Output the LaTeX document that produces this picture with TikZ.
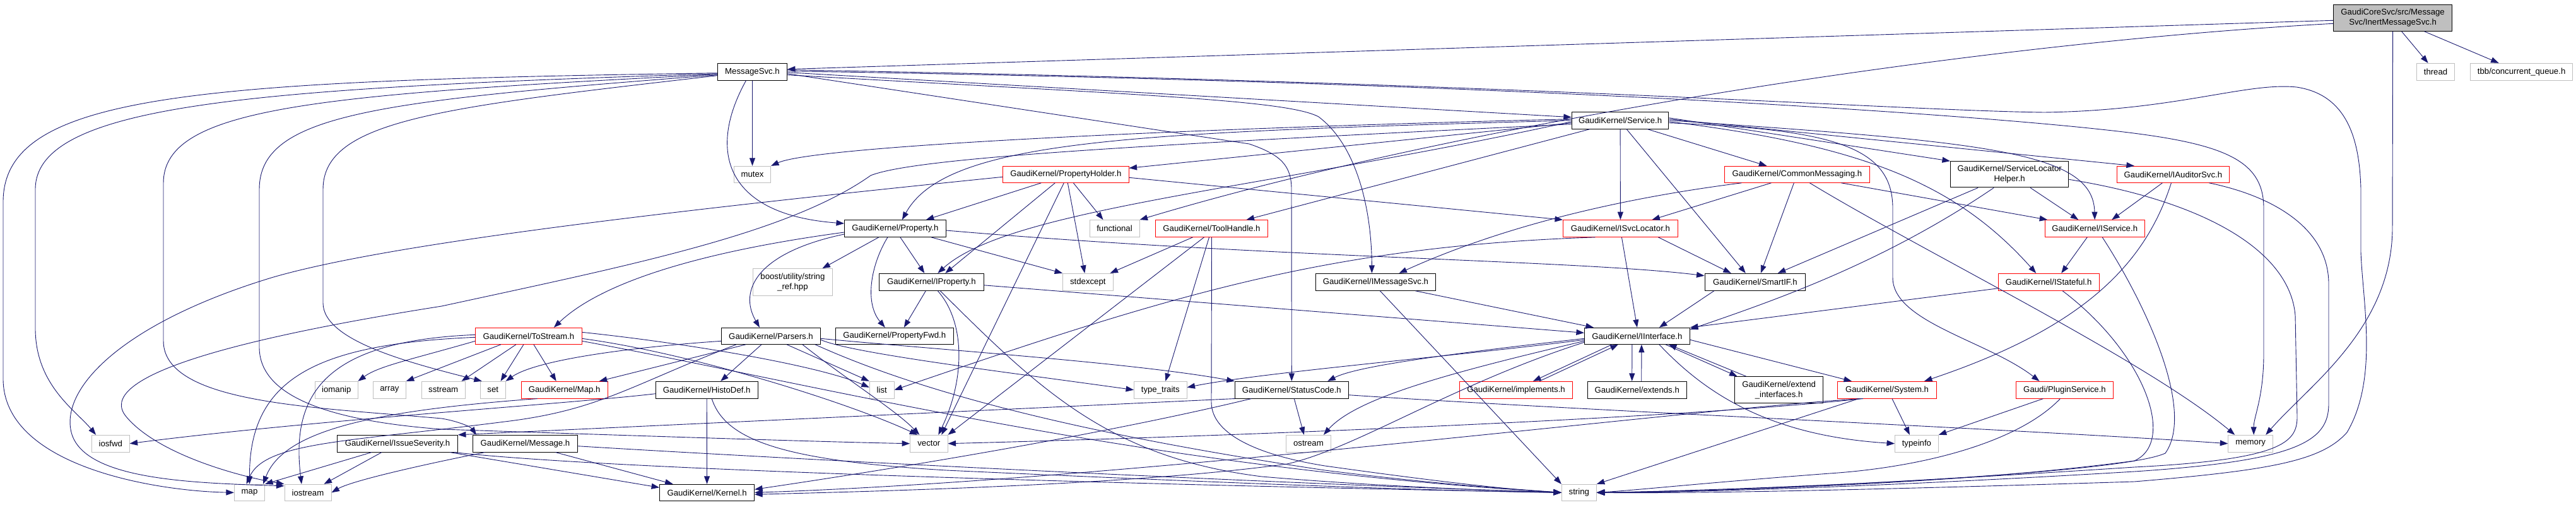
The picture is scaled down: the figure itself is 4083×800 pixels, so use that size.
\documentclass[tikz,border=0pt]{standalone}
\usepackage{fontspec}
\setmainfont{Liberation Sans}
\usetikzlibrary{arrows.meta}
\definecolor{edgeblue}{HTML}{191970}
\definecolor{boxgray}{HTML}{BFBFBF}
\definecolor{boxred}{HTML}{FF0000}
\newcommand\gkfont{\fontsize{13.2pt}{15.5pt}\selectfont}
\begin{document}
\begin{tikzpicture}[x=1pt,y=-1pt,
  box/.style={rectangle, inner sep=0pt, line width=1pt, font=\gkfont, align=center, text=black},
  bb/.style={box, draw=black},
  rb/.style={box, draw=boxred},
  gb/.style={box, draw=boxgray},
  sz/.style 2 args={minimum width=#1pt, minimum height=#2pt},
  e/.style={draw=edgeblue, line width=0.9pt, -{Triangle[length=12.5pt,width=9pt]}},
]
\useasboundingbox[fill=white] (0,0) rectangle (4083,800);

% ---------- nodes ----------
\node[bb, fill=boxgray, sz={188}{42}] (inert) at (3792.6,28.3) {GaudiCoreSvc/src/Message\\Svc/InertMessageSvc.h};
\node[gb, sz={60}{26.7}] (thread) at (3860.5,113.7) {thread};
\node[gb, sz={162}{26.7}] (tbb) at (3996.6,113.7) {tbb/concurrent\_queue.h};
\node[bb, sz={110}{26.7}] (msgsvc) at (1192.5,113.7) {MessageSvc.h};
\node[bb, sz={153.6}{26.7}] (service) at (2568.1,190.7) {GaudiKernel/Service.h};
\node[gb, sz={58}{26}] (mutex) at (1192.5,276.3) {mutex};
\node[rb, sz={199.5}{26}] (propholder) at (1689.3,276.3) {GaudiKernel/PropertyHolder.h};
\node[rb, sz={230}{26}] (commsg) at (2848.4,276.3) {GaudiKernel/CommonMessaging.h};
\node[bb, sz={187.5}{41.3}] (slh) at (3185.2,276.3) {GaudiKernel/ServiceLocator\\Helper.h};
\node[rb, sz={178}{26}] (auditor) at (3444.4,276.3) {GaudiKernel/IAuditorSvc.h};
\node[bb, sz={160.8}{26.7}] (property) at (1418.9,362) {GaudiKernel/Property.h};
\node[gb, sz={79}{26.7}] (functional) at (1766.5,362) {functional};
\node[rb, sz={178}{26.7}] (toolhandle) at (1920.5,362) {GaudiKernel/ToolHandle.h};
\node[rb, sz={181.7}{26.7}] (isvcloc) at (2568.4,362) {GaudiKernel/ISvcLocator.h};
\node[rb, sz={157.6}{26.7}] (iservice) at (3320.2,362) {GaudiKernel/IService.h};
\node[gb, sz={126}{42.6}] (boost) at (1256.4,447) {boost/utility/string\\\_ref.hpp};
\node[bb, sz={165.6}{27}] (iproperty) at (1476.3,446.8) {GaudiKernel/IProperty.h};
\node[gb, sz={79.4}{27}] (stdexcept) at (1724.3,446.8) {stdexcept};
\node[bb, sz={189.8}{27}] (imsgsvc) at (2180.4,446.8) {GaudiKernel/IMessageSvc.h};
\node[bb, sz={159.5}{27}] (smartif) at (2781.8,446.8) {GaudiKernel/SmartIF.h};
\node[rb, sz={159.8}{27}] (istateful) at (3247.2,446.8) {GaudiKernel/IStateful.h};
\node[rb, sz={168.3}{26}] (tostream) at (837.9,532.3) {GaudiKernel/ToStream.h};
\node[bb, sz={157}{26}] (parsers) at (1222,532.3) {GaudiKernel/Parsers.h};
\node[bb, sz={187}{26}] (propfwd) at (1417.8,532.3) {GaudiKernel/PropertyFwd.h};
\node[bb, sz={167}{26}] (iinterface) at (2594.9,532.3) {GaudiKernel/IInterface.h};
\node[gb, sz={67.4}{26.7}] (iomanip) at (533.3,617.7) {iomanip};
\node[gb, sz={51.8}{26.7}] (array) at (617.4,617.7) {array};
\node[gb, sz={68.7}{26.7}] (sstream) at (702.7,617.7) {sstream};
\node[gb, sz={39.7}{26.7}] (set) at (781.2,617.7) {set};
\node[rb, sz={136.6}{26.7}] (maph) at (894.7,617.7) {GaudiKernel/Map.h};
\node[bb, sz={161.6}{26.7}] (histodef) at (1120.2,617.7) {GaudiKernel/HistoDef.h};
\node[gb, sz={38.8}{26.7}] (list) at (1397.7,617.7) {list};
\node[gb, sz={83.5}{26.7}] (typetraits) at (1839.3,617.7) {type\_traits};
\node[bb, sz={180}{26.7}] (statuscode) at (2047.3,617.7) {GaudiKernel/StatusCode.h};
\node[rb, sz={178.5}{26.7}] (implements) at (2403,617.7) {GaudiKernel/implements.h};
\node[bb, sz={156.7}{26.7}] (extends) at (2594.7,617.7) {GaudiKernel/extends.h};
\node[bb, sz={140}{42.3}] (extendif) at (2819.6,617.8) {GaudiKernel/extend\\\_interfaces.h};
\node[rb, sz={156.2}{26.7}] (system) at (2991,617.7) {GaudiKernel/System.h};
\node[rb, sz={154}{26.7}] (plugin) at (3272.5,617.7) {Gaudi/PluginService.h};
\node[gb, sz={59.5}{26.7}] (iosfwd) at (175.3,702.7) {iosfwd};
\node[bb, sz={191}{26.7}] (issev) at (630,702.7) {GaudiKernel/IssueSeverity.h};
\node[bb, sz={165.7}{26.7}] (message) at (832.5,702.7) {GaudiKernel/Message.h};
\node[gb, sz={59.4}{26.7}] (vector) at (1472.3,702.7) {vector};
\node[gb, sz={70.6}{26.7}] (ostream) at (2073.9,702.7) {ostream};
\node[gb, sz={68.7}{26.7}] (typeinfo) at (3037.9,702.7) {typeinfo};
\node[gb, sz={70.9}{26.7}] (memory) at (3567.2,702.7) {memory};
\node[gb, sz={48.2}{26}] (map) at (395.5,780.3) {map};
\node[gb, sz={74}{26}] (iostream) at (488,780.3) {iostream};
\node[bb, sz={150}{26}] (kernel) at (1120.6,780.3) {GaudiKernel/Kernel.h};
\node[gb, sz={55}{26}] (string) at (2502.8,780.3) {string};

% ---------- edges ----------
% InertMessageSvc.h
\draw[e] ([yshift=-4pt]inert.west) -- ([yshift=4pt]msgsvc.east);
\draw[e] ([yshift=-9pt]inert.west) .. controls (3100,70) and (2300,200) .. (functional.north east);
\draw[e] (inert.south) -- (3792,360) .. controls (3792,520) and (3660,610) .. ([xshift=24pt]memory.north);
\draw[e] ([xshift=14pt]inert.south) -- ([xshift=-12pt]thread.north);
\draw[e] ([xshift=50pt]inert.south) -- ([xshift=-36pt]tbb.north);

% MessageSvc.h
\draw[e] (msgsvc) -- (mutex);
\draw[e] ([xshift=-10pt]msgsvc.south) .. controls (1120,240) and (1150,340) .. ([yshift=8pt]property.west);
\draw[e] ([yshift=-1pt]msgsvc.east) -- ([yshift=5pt]service.west);
\draw[e] ([yshift=-3pt]msgsvc.east) -- (1980,228) .. controls (2030,245) and (2047,262) .. (2047,300) -- (statuscode.north);
\draw[e] ([yshift=-5pt]msgsvc.east) .. controls (1800,150) and (2040,158) .. (2090,185) .. controls (2150,230) and (2174,330) .. ([xshift=-6pt]imsgsvc.north);
\draw[e] ([yshift=1pt]msgsvc.east) .. controls (2400,130) and (3100,180) .. (3330,205) .. controls (3520,225) and (3588,250) .. (3588,330) -- (3588,560) .. controls (3588,630) and (3572,660) .. ([xshift=5pt]memory.north);
\draw[e] ([yshift=3pt]msgsvc.east) .. controls (2400,130) and (3000,175) .. (3240,178) .. controls (3450,175) and (3560,130) .. (3640,138) .. controls (3720,150) and (3740,220) .. (3742,300) -- (3742,400) .. controls (3745,480) and (3770,600) .. (3720,685) .. controls (3680,730) and (3600,745) .. (3383,763) .. controls (3000,775) and (2700,782) .. (string.east);
\draw[e] ([yshift=-2pt]msgsvc.west) .. controls (300,128) and (5,150) .. (5,320) -- (5,600) .. controls (5,740) and (250,778) .. (map.west);
\draw[e] ([yshift=-3pt]msgsvc.west) .. controls (400,140) and (56,165) .. (56,300) -- (56,520) .. controls (56,610) and (120,650) .. ([xshift=7pt]iosfwd.north west);
\draw[e] ([yshift=-4pt]msgsvc.west) .. controls (500,150) and (259,170) .. (259,290) -- (259,540) .. controls (259,640) and (500,645) .. (700,663) .. controls (720,666) and (745,675) .. ([xshift=6pt]message.north west);
\draw[e] ([yshift=-5pt]msgsvc.west) .. controls (600,160) and (411,180) .. (411,300) -- (411,550) .. controls (411,620) and (500,665) .. (700,680) .. controls (1000,690) and (1300,700) .. (vector.west);
\draw[e] ([yshift=-6pt]msgsvc.west) .. controls (700,170) and (512,190) .. (512,300) -- (512,480) .. controls (512,540) and (650,575) .. ([xshift=3pt]set.north west);

% Service.h
\draw[e] ([yshift=2pt]service.west) .. controls (2000,200) and (1300,228) .. (mutex.north east);
\draw[e] (service.west) .. controls (1800,210) and (1500,220) .. ([xshift=11pt]property.north);
\draw[e] ([yshift=-4pt]service.west) -- ([yshift=10pt]propholder.east);
\draw[e] ([yshift=-2pt]service.west) .. controls (2000,300) and (1600,330) .. ([xshift=10pt]iproperty.north);
\draw[e] ([yshift=-6pt]service.west) .. controls (1800,230) and (1450,250) .. (1380,278) .. controls (1250,370) and (1000,420) .. (700,485) .. controls (350,540) and (150,600) .. (200,660) .. controls (250,720) and (380,755) .. (iostream.north west);
\draw[e] ([xshift=-48pt]service.south) -- ([xshift=55pt]toolhandle.north);
\draw[e] (service) -- (isvcloc);
\draw[e] ([xshift=43pt]service.south) -- ([xshift=-48pt]commsg.north);
\draw[e] ([xshift=10pt]service.south) -- ([xshift=-15pt]smartif.north);
\draw[e] ([yshift=4pt]service.east) -- (slh.north west);
\draw[e] ([yshift=2pt]service.east) -- ([xshift=28pt]auditor.north west);
\draw[e] (service.east) .. controls (3150,225) and (3318,240) .. (iservice.north);
\draw[e] ([yshift=-2pt]service.east) .. controls (2950,230) and (3100,290) .. ([xshift=-20pt]istateful.north);
\draw[e] ([yshift=-4pt]service.east) .. controls (2900,205) and (3000,230) .. (3000,330) -- (3000,440) .. controls (3000,510) and (3150,540) .. ([xshift=-40pt]plugin.north);

% PropertyHolder.h
\draw[e] ([xshift=-39pt]propholder.south) -- ([xshift=-32pt]property.north east);
\draw[e] ([xshift=12pt]propholder.south) -- ([xshift=-18pt]functional.north);
\draw[e] ([xshift=-17pt]propholder.south) -- ([xshift=22pt]iproperty.north);
\draw[e] ([xshift=-3pt]propholder.south) -- ([xshift=20pt]vector.north);
\draw[e] ([xshift=3pt]propholder.south) -- ([xshift=-5pt]stdexcept.north);
\draw[e] ([yshift=-5pt]propholder.east) -- (isvcloc.north west);
\draw[e] ([yshift=-4pt]propholder.west) .. controls (1000,340) and (600,390) .. (430,440) .. controls (200,510) and (100,610) .. (112,680) .. controls (125,760) and (300,765) .. ([yshift=-3pt]iostream.north west);

% CommonMessaging.h
\draw[e] ([xshift=-41pt]commsg.south) -- ([xshift=50pt]isvcloc.north);
\draw[e] ([xshift=-88pt]commsg.south) .. controls (2600,310) and (2400,350) .. ([xshift=37pt]imsgsvc.north);
\draw[e] ([xshift=70pt]commsg.south) -- ([xshift=-75pt]iservice.north);
\draw[e] ([xshift=-5pt]commsg.south) -- ([xshift=9pt]smartif.north);
\draw[e] ([xshift=20pt]commsg.south) .. controls (3050,400) and (3400,570) .. ([xshift=-25pt]memory.north);

% ServiceLocatorHelper.h
\draw[e] ([xshift=33pt]slh.south) -- ([xshift=-26pt]iservice.north);
\draw[e] ([xshift=-50pt]slh.south) -- ([xshift=36pt]smartif.north);
\draw[e] ([xshift=-25pt]slh.south) .. controls (2980,420) and (2800,480) .. ([yshift=-3pt]iinterface.north east);
\draw[e] ([yshift=-8pt]slh.east) .. controls (3500,320) and (3630,400) .. (3638,500) -- (3641,660) .. controls (3641,700) and (3620,728) .. (3383,740) .. controls (3000,765) and (2700,780) .. (string.east);

% IAuditorSvc.h
\draw[e] ([xshift=-17pt]auditor.south) -- ([xshift=27pt]iservice.north);
\draw[e] ([xshift=-3pt]auditor.south) .. controls (3400,420) and (3300,520) .. ([xshift=59pt]system.north);
\draw[e] ([xshift=57pt]auditor.south) .. controls (3600,310) and (3691,360) .. (3691,450) -- (3691,640) .. controls (3691,700) and (3640,730) .. (3383,747) .. controls (3000,770) and (2700,780) .. (string.east);

% Property.h
\draw[e] ([xshift=8pt]property.south) -- ([xshift=-11pt]iproperty.north);
\draw[e] ([xshift=-26pt]property.south) -- ([xshift=47pt]boost.north);
\draw[e] ([xshift=-12pt]property.south) .. controls (1380,420) and (1370,480) .. ([xshift=-15pt]propfwd.north);
\draw[e] ([xshift=57pt]property.south) -- (stdexcept.north west);
\draw[e] ([yshift=-6pt]property.west) .. controls (1100,400) and (950,450) .. ([xshift=40pt]tostream.north);
\draw[e] ([yshift=-9pt]property.west) .. controls (1200,400) and (1170,460) .. ([xshift=-18pt]parsers.north);
\draw[e] ([yshift=-3pt]property.east) .. controls (2000,408) and (2500,412) .. ([yshift=10pt]smartif.west);

% IProperty.h
\draw[e] ([xshift=-9pt]iproperty.south) -- ([xshift=15pt]propfwd.north);
\draw[e] ([yshift=-5pt]iproperty.east) -- ([yshift=5pt]iinterface.west);
\draw[e] ([xshift=10pt]iproperty.south) .. controls (1530,510) and (1530,600) .. ([xshift=15pt]vector.north);
\draw[e] ([xshift=14pt]iproperty.south) .. controls (1650,620) and (1760,725) .. (2000,755) .. controls (2200,772) and (2400,778) .. (string.west);

% Parsers.h
\draw[e] ([xshift=-40pt]parsers.south) -- ([xshift=55pt]maph.north);
\draw[e] ([xshift=-15pt]parsers.south) -- ([xshift=22pt]histodef.north);
\draw[e] ([xshift=25pt]parsers.south) -- (list.north west);
\draw[e] ([yshift=-8pt]parsers.west) .. controls (1000,550) and (850,570) .. (set.north east);
\draw[e] ([xshift=-55pt]parsers.south) .. controls (1000,610) and (950,650) .. (800,668) .. controls (550,700) and (420,700) .. ([xshift=-5pt]map.north);
\draw[e] ([yshift=-6pt]parsers.east) .. controls (1350,560) and (1600,590) .. (typetraits.west);
\draw[e] ([yshift=-4pt]parsers.east) .. controls (1500,555) and (1800,575) .. (statuscode.north west);
\draw[e] ([xshift=50pt]parsers.south) .. controls (1340,600) and (1420,650) .. ([xshift=-15pt]vector.north);
\draw[e] ([xshift=70pt]parsers.south) .. controls (1500,640) and (1800,700) .. (2100,745) .. controls (2300,770) and (2420,776) .. (string.west);

% ToStream.h
\draw[e] ([xshift=-20pt]tostream.south) -- ([xshift=-6pt]sstream.north east);
\draw[e] ([xshift=-8pt]tostream.south) -- ([xshift=-8pt]set.north east);
\draw[e] ([xshift=8pt]tostream.south) -- ([xshift=-13pt]maph.north);
\draw[e] ([xshift=-44pt]tostream.south) -- (array.north east);
\draw[e] ([yshift=-8pt]tostream.west) .. controls (650,570) and (600,580) .. (iomanip.north east);
\draw[e] ([yshift=-2pt]tostream.west) .. controls (500,545) and (395,600) .. (map.north);
\draw[e] ([yshift=2pt]tostream.west) .. controls (520,540) and (460,620) .. ([xshift=-10pt]iostream.north);
\draw[e] ([yshift=6pt]tostream.east) .. controls (1100,545) and (1300,580) .. ([yshift=4pt]list.west);
\draw[e] ([yshift=-4pt]tostream.east) .. controls (1100,560) and (1350,640) .. ([xshift=-18pt]vector.north);
\draw[e] ([yshift=-8pt]tostream.east) .. controls (1300,610) and (1800,740) .. (string.west);

% Map.h, HistoDef.h
\draw[e] ([xshift=-43pt]maph.south) .. controls (600,650) and (450,680) .. ([xshift=-3pt]map.north east);
\draw[e] (histodef) -- (kernel);
\draw[e] ([xshift=8pt]histodef.south) .. controls (1150,700) and (1250,730) .. (1500,745) .. controls (2000,768) and (2300,778) .. (string.west);
\draw[e] ([yshift=-6pt]histodef.west) .. controls (900,640) and (500,665) .. (iosfwd.east);

% StatusCode.h
\draw[e] (statuscode.south west) -- (issev.north east);
\draw[e] ([xshift=-64pt]statuscode.south) .. controls (1700,700) and (1300,760) .. ([yshift=5pt]kernel.east);
\draw[e] ([xshift=4pt]statuscode.south) -- ([xshift=-7pt]ostream.north);
\draw[e] ([yshift=-8pt]statuscode.east) .. controls (2500,650) and (3200,680) .. (memory.west);

% IInterface.h and friends
\draw[e] ([xshift=-40pt]iinterface.south) -- ([xshift=27pt]implements.north);
\draw[e] ([xshift=37pt]implements.north) -- ([xshift=-30pt]iinterface.south);
\draw[e] ([xshift=-8pt]iinterface.south) -- ([xshift=-8pt]extends.north);
\draw[e] ([xshift=7pt]extends.north) -- ([xshift=7pt]iinterface.south);
\draw[e] ([xshift=45pt]iinterface.south) -- ([xshift=-66pt]extendif.north);
\draw[e] ([xshift=-52pt]extendif.north) -- ([xshift=50pt]iinterface.south);
\draw[e] ([yshift=-4pt]iinterface.west) .. controls (2300,560) and (2150,580) .. ([xshift=57pt]statuscode.north);
\draw[e] ([yshift=-6pt]iinterface.west) .. controls (2300,565) and (2000,590) .. ([yshift=4pt]typetraits.east);
\draw[e] ([yshift=-8pt]iinterface.west) .. controls (2300,590) and (2150,630) .. ([xshift=24pt]ostream.north);
\draw[e] ([yshift=-10pt]iinterface.west) .. controls (2300,610) and (2150,710) .. (2040,735) .. controls (1800,768) and (1400,778) .. ([yshift=-3pt]kernel.east);
\draw[e] ([yshift=-6pt]iinterface.east) -- ([xshift=-56pt]system.north);
\draw[e] ([xshift=35pt]iinterface.south) .. controls (2700,620) and (2800,690) .. (typeinfo.west);

\draw[e] ([xshift=63pt]imsgsvc.south) -- ([xshift=15pt]iinterface.north west);
\draw[e] ([xshift=7pt]imsgsvc.south) -- (string.north west);
\draw[e] ([xshift=2pt]isvcloc.south) -- (iinterface.north);
\draw[e] ([xshift=60pt]isvcloc.south) -- ([xshift=-38pt]smartif.north);
\draw[e] ([xshift=-40pt]isvcloc.south) .. controls (2100,390) and (1850,470) .. (list.east);
\draw[e] ([xshift=-65pt]smartif.south) -- ([xshift=35pt]iinterface.north);
\draw[e] ([yshift=-10pt]istateful.west) -- (iinterface.north east);
\draw[e] ([xshift=22pt]istateful.south) .. controls (3400,560) and (3450,700) .. (3383,730) .. controls (3100,768) and (2700,778) .. (string.east);
\draw[e] ([xshift=-12pt]iservice.south) -- ([xshift=20pt]istateful.north);
\draw[e] ([xshift=12pt]iservice.south) .. controls (3400,480) and (3480,650) .. (3432,718) .. controls (3350,755) and (2700,778) .. (string.east);

% ToolHandle.h
\draw[e] ([xshift=-30pt]toolhandle.south) -- ([xshift=-5pt]stdexcept.north east);
\draw[e] ([xshift=-12pt]toolhandle.south) -- (vector.north east);
\draw[e] ([xshift=-4pt]toolhandle.south) -- ([xshift=8pt]typetraits.north);
\draw[e] (toolhandle.south) -- (1920,637) .. controls (1920,690) and (2000,722) .. (2100,738) .. controls (2300,766) and (2400,776) .. (string.west);

% System.h, PluginService.h
\draw[e] ([xshift=8pt]system.south) -- ([xshift=-11pt]typeinfo.north);
\draw[e] ([xshift=-45pt]system.south) -- (string.north east);
\draw[e] ([xshift=-40pt]system.south) .. controls (2700,660) and (2000,690) .. (vector.east);
\draw[e] ([xshift=-38pt]system.south) .. controls (2700,645) and (1800,760) .. (kernel.east);
\draw[e] ([xshift=-34pt]plugin.south) -- (typeinfo.north east);
\draw[e] ([xshift=-7pt]plugin.south) .. controls (3200,700) and (3050,740) .. (2900,750) .. controls (2700,765) and (2600,776) .. (string.east);

% Message.h, IssueSeverity.h
\draw[e] ([xshift=48pt]message.south) -- ([xshift=-54pt]kernel.north);
\draw[e] ([xshift=-64pt]message.south) .. controls (700,730) and (560,760) .. (iostream.east);
\draw[e] ([yshift=-4pt]message.east) .. controls (1300,730) and (2000,765) .. (string.west);
\draw[e] ([xshift=-41pt]issev.south) -- (map.north east);
\draw[e] ([xshift=-25pt]issev.south) -- ([xshift=-12pt]iostream.north east);
\draw[e] ([xshift=83pt]issev.south) -- ([yshift=8pt]kernel.west);
\draw[e] ([xshift=90pt]issev.south) .. controls (1000,748) and (2000,772) .. (string.west);
\end{tikzpicture}
\end{document}
